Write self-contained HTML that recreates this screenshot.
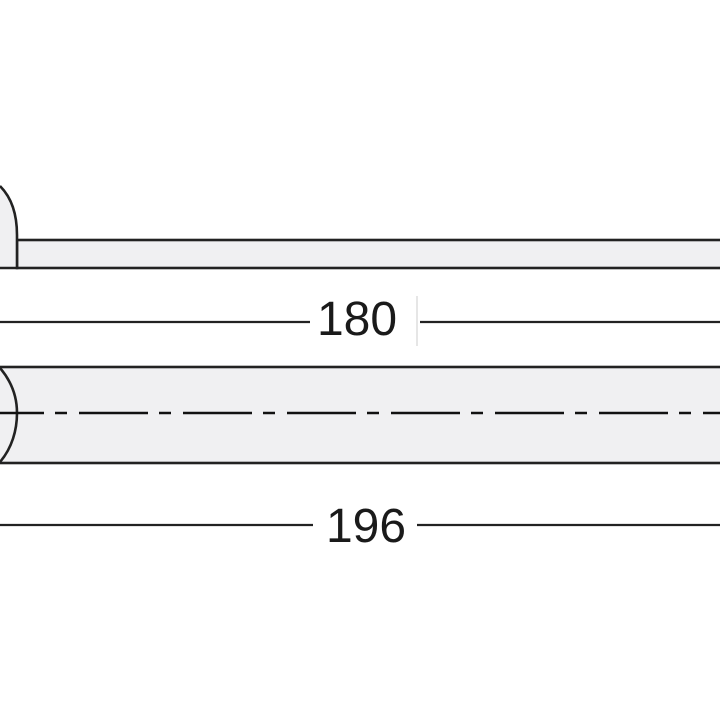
<!DOCTYPE html>
<html><head><style>html,body{margin:0;padding:0;background:#fff}</style></head>
<body>
<svg width="720" height="720" viewBox="0 0 720 720" xmlns="http://www.w3.org/2000/svg">
<rect width="720" height="720" fill="#fff"/>
<!-- top bar -->
<rect x="17" y="240" width="710" height="28" fill="#f0f0f2" stroke="#222" stroke-width="2.6"/>
<path d="M0,268 L17,268 L17,235 C17,212 10,195 0,185 L0,268 Z" fill="#f0f0f2"/>
<path d="M0,186 C10,196 17,212 17,235 L17,268 L0,268" fill="none" stroke="#222" stroke-width="2.6"/>
<!-- dim 180 -->
<line x1="0" y1="322" x2="310" y2="322" stroke="#222" stroke-width="2.2"/>
<line x1="420" y1="322" x2="720" y2="322" stroke="#222" stroke-width="2.2"/>
<line x1="417" y1="296" x2="417" y2="346" stroke="#ccc" stroke-width="1"/>
<text x="357" y="335" font-family="Liberation Sans, sans-serif" font-size="48" text-anchor="middle" fill="#1a1a1a">180</text>
<!-- lower bar -->
<rect x="-5" y="367" width="730" height="96" fill="#f0f0f2" stroke="#222" stroke-width="2.6"/>
<path d="M0,368 C12,382 17,398 17,413 C17,430 12,448 0,462" fill="none" stroke="#222" stroke-width="2.6"/>
<line x1="0" y1="413" x2="720" y2="413" stroke="#111" stroke-width="2.6" stroke-dasharray="69 11 12 12" stroke-dashoffset="25"/>
<!-- dim 196 -->
<line x1="0" y1="525" x2="313" y2="525" stroke="#222" stroke-width="2.2"/>
<line x1="417" y1="525" x2="720" y2="525" stroke="#222" stroke-width="2.2"/>
<text x="366" y="542" font-family="Liberation Sans, sans-serif" font-size="48" text-anchor="middle" fill="#1a1a1a">196</text>
</svg>
</body></html>
